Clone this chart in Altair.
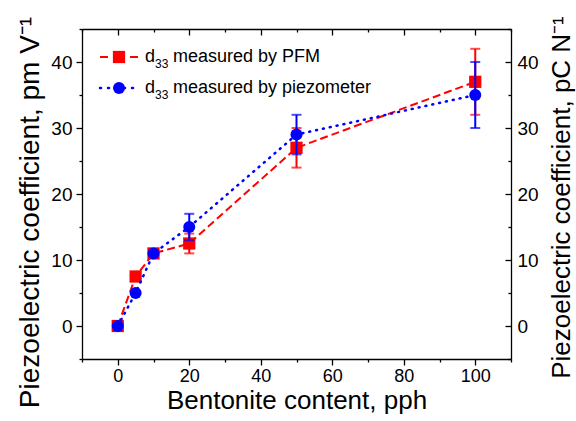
import altair as alt
import pandas as pd

# ---- data ----
x_vals = [0, 5, 10, 20, 50, 100]
pfm_vals = [0, 7.5, 11, 12.5, 27, 37]
pfm_err = [0, 0, 0, 1.5, 3, 5]
pz_vals = [0, 5, 11, 15, 29, 35]
pz_err = [0, 0, 0, 2, 3, 5]

x_tick_values = list(range(-10, 111, 10))
y_tick_values = list(range(-5, 46, 5))

x_title = "Bentonite content, pph"
y_left_title = "Piezoelectric coefficient, pm V\u207b\u00b9"
y_right_title = "Piezoelectric coefficient, pC N\u207b\u00b9"
legend_main = ["measured by PFM", "measured by piezometer"]

W, H = 429, 330
FONT = "Liberation Sans"
RED = "#ff0000"
BLUE = "#0000ff"


def series_df(vals, err):
    return pd.DataFrame({
        "x": x_vals,
        "y": vals,
        "err": err,
        "lo": [v - e for v, e in zip(vals, err)],
        "hi": [v + e for v, e in zip(vals, err)],
    })


pfm = series_df(pfm_vals, pfm_err)
pz = series_df(pz_vals, pz_err)
pfm_e = pfm[pfm["err"] > 0]
pz_e = pz[pz["err"] > 0]

xs = alt.Scale(domain=[-10, 110], nice=False, zero=False)
ys = alt.Scale(domain=[-5, 45], nice=False, zero=False)

common_axis = dict(
    grid=False, domainColor="black", domainWidth=1.3, tickColor="black",
    tickWidth=1.3, labelColor="black", labelFont=FONT,
    labelOverlap=False, labelFlush=False, titleFont=FONT,
    titleFontWeight="normal", titleColor="black",
)

bottom_axis = alt.Axis(
    orient="bottom", values=x_tick_values,
    labelExpr="datum.value % 20 === 0 ? datum.label : ''",
    tickSize={"expr": "datum.value % 20 === 0 ? 6 : 3"},
    labelPadding=2, labelFontSize=18, title=x_title, titleFontSize=26,
    titleX=W / 2, titleY=41, titleAlign="center", titleBaseline="middle",
    **common_axis)
left_axis = alt.Axis(
    orient="left", values=y_tick_values,
    labelExpr="datum.value % 10 === 0 ? datum.label : ''",
    tickSize={"expr": "datum.value % 10 === 0 ? 6 : 3"},
    labelPadding=4, labelFontSize=19, title=y_left_title, titleFontSize=28,
    titleAngle=270, titleX=-52, titleY=183, titleAlign="center",
    titleBaseline="middle", **common_axis)
top_axis = alt.Axis(
    orient="top", values=x_tick_values, labels=False,
    tickSize={"expr": "datum.value % 20 === 0 ? -6 : -3"},
    title=None, **common_axis)
right_axis = alt.Axis(
    orient="right", values=y_tick_values,
    labelExpr="datum.value % 10 === 0 ? datum.label : ''",
    tickSize={"expr": "datum.value % 10 === 0 ? -6 : -3"},
    labelPadding=12, labelFontSize=19, title=y_right_title, titleFontSize=26,
    titleAngle=270, titleX=50, titleY=168, titleAlign="center",
    titleBaseline="middle", **common_axis)


def X(field="x", axis=None):
    return alt.X(f"{field}:Q", scale=xs, axis=axis)


def Y(field="y", axis=None):
    return alt.Y(f"{field}:Q", scale=ys, axis=axis)


# red series
red_line = alt.Chart(pfm).mark_line(color=RED, strokeWidth=2, strokeDash=[8, 4]).encode(
    x=X(axis=bottom_axis), y=Y(axis=left_axis))
red_err = alt.Chart(pfm_e).mark_rule(color=RED, strokeWidth=2).encode(
    x=X(), y=Y("lo"), y2="hi:Q")
red_cap_lo = alt.Chart(pfm_e).mark_tick(color=RED, orient="horizontal", size=10, thickness=2).encode(
    x=X(), y=Y("lo"))
red_cap_hi = alt.Chart(pfm_e).mark_tick(color=RED, orient="horizontal", size=10, thickness=2).encode(
    x=X(), y=Y("hi"))
red_pts = alt.Chart(pfm).mark_point(shape="square", filled=True, size=150, color=RED, opacity=1).encode(
    x=X(), y=Y())

# blue series
blue_line = alt.Chart(pz).mark_line(color=BLUE, strokeWidth=2.5, strokeDash=[1, 6], strokeCap="round").encode(
    x=X(), y=Y())
blue_err = alt.Chart(pz_e).mark_rule(color=BLUE, strokeWidth=2).encode(
    x=X(), y=Y("lo"), y2="hi:Q")
blue_cap_lo = alt.Chart(pz_e).mark_tick(color=BLUE, orient="horizontal", size=10, thickness=2).encode(
    x=X(), y=Y("lo"))
blue_cap_hi = alt.Chart(pz_e).mark_tick(color=BLUE, orient="horizontal", size=10, thickness=2).encode(
    x=X(), y=Y("hi"))
blue_pts = alt.Chart(pz).mark_circle(size=145, color=BLUE, opacity=1).encode(
    x=X(axis=top_axis), y=Y(axis=right_axis))

# legend (drawn by hand, with subscripts)
one = pd.DataFrame({"a": [0]})
L1, L2 = 28, 59
leg = [
    alt.Chart(one).mark_rule(color=RED, strokeWidth=2).encode(
        x=alt.value(18), x2=alt.value(26), y=alt.value(L1)),
    alt.Chart(one).mark_rule(color=RED, strokeWidth=2).encode(
        x=alt.value(48), x2=alt.value(56), y=alt.value(L1)),
    alt.Chart(one).mark_point(shape="square", filled=True, size=150, color=RED, opacity=1).encode(
        x=alt.value(37), y=alt.value(L1)),
    alt.Chart(one).mark_rule(color=BLUE, strokeWidth=2.5, strokeDash=[1, 7], strokeCap="round").encode(
        x=alt.value(18), x2=alt.value(56), y=alt.value(L2)),
    alt.Chart(one).mark_circle(size=145, color=BLUE, opacity=1).encode(
        x=alt.value(37), y=alt.value(L2)),
]
for yy, label in zip([L1, L2], legend_main):
    leg.append(alt.Chart(one).mark_text(font=FONT, fontSize=18, align="left", baseline="middle", color="black").encode(
        x=alt.value(63), y=alt.value(yy), text=alt.value("d")))
    leg.append(alt.Chart(one).mark_text(font=FONT, fontSize=12, align="left", baseline="middle", color="black").encode(
        x=alt.value(73), y=alt.value(yy + 7), text=alt.value("33")))
    leg.append(alt.Chart(one).mark_text(font=FONT, fontSize=18, align="left", baseline="middle", color="black").encode(
        x=alt.value(91), y=alt.value(yy), text=alt.value(label)))

chart = alt.layer(
    red_line, red_err, red_cap_lo, red_cap_hi, red_pts,
    blue_line, blue_err, blue_cap_lo, blue_cap_hi, blue_pts,
    *leg,
).resolve_scale(x="independent", y="independent").properties(
    width=W, height=H,
    autosize=alt.AutoSizeParams(type="none"),
    padding={"left": 82, "top": 29, "right": 65, "bottom": 62},
    background="white",
).configure_view(stroke=None)

chart.save("out.html", embed_options={"renderer": "svg", "actions": False})
